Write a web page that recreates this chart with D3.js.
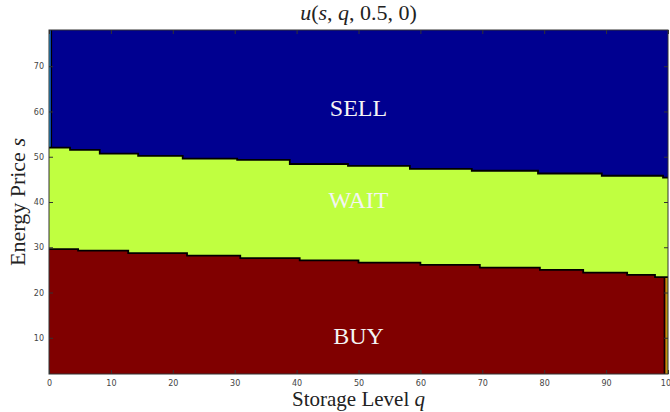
<!DOCTYPE html>
<html>
<head>
<meta charset="utf-8">
<script src="https://cdn.jsdelivr.net/npm/d3@7"></script>
<style>
  body { margin: 0; background: #fff; }
  svg { display: block; }
</style>
</head>
<body>
<svg id="chart" width="670" height="412"></svg>
<script>
// axis ranges and ticks
const qDomain = [0, 100];
const sDomain = [2, 78];
const xTicks = [0, 10, 20, 30, 40, 50, 60, 70, 80, 90, 100];
const yTicks = [10, 20, 30, 40, 50, 60, 70];

// SELL / WAIT boundary (step starts in q, price level in s)
const sellBreaks = [0, 3.4, 8.2, 14.4, 21.6, 30.4, 38.9, 48.3, 58.3, 68.3, 79.0, 89.3, 99.2];
const sellLevels = [52.0, 51.5, 50.7, 50.2, 49.6, 49.3, 48.4, 48.0, 47.3, 46.9, 46.3, 45.8, 45.4];

// WAIT / BUY boundary
const buyBreaks = [0, 4.7, 12.8, 22.3, 30.9, 40.5, 50.0, 60.0, 69.6, 79.3, 86.3, 93.4, 97.9];
const buyLevels = [29.6, 29.25, 28.7, 28.15, 27.6, 27.1, 26.6, 26.1, 25.5, 25.0, 24.4, 23.9, 23.4];

// region labels
const regions = [
    {name: "SELL", q: 50, s: 60.8},
    {name: "WAIT", q: 50, s: 40.5},
    {name: "BUY", q: 50, s: 10.4}
];

const margin = {top: 30, right: 2, bottom: 38, left: 49};
const width = 670 - margin.left - margin.right;
const height = 412 - margin.top - margin.bottom;

const svg = d3.select("#chart");
const g = svg.append("g")
    .attr("transform", "translate(" + margin.left + "," + margin.top + ")");

const x = d3.scaleLinear().domain(qDomain).range([0, width]);
const y = d3.scaleLinear().domain(sDomain).range([height, 0]);

// turn breaks/levels into step points ending at q = 100
function stepPoints(breaks, levels) {
    let pts = breaks.map((b, i) => [b, levels[i]]);
    pts.push([qDomain[1], levels[levels.length - 1]]);
    return pts;
}
const sellPts = stepPoints(sellBreaks, sellLevels);
const buyPts = stepPoints(buyBreaks, buyLevels);

// WAIT = background
g.append("rect")
    .attr("width", width)
    .attr("height", height)
    .attr("fill", "#c0ff40");

// SELL region
g.append("path")
    .datum(sellPts)
    .attr("fill", "#000090")
    .attr("d", d3.area()
        .curve(d3.curveStepAfter)
        .x(d => x(d[0]))
        .y0(y(sDomain[1]))
        .y1(d => y(d[1])));

// BUY region
g.append("path")
    .datum(buyPts)
    .attr("fill", "#800000")
    .attr("d", d3.area()
        .curve(d3.curveStepAfter)
        .x(d => x(d[0]))
        .y0(y(sDomain[0]))
        .y1(d => y(d[1])));

// edge artefacts of the grid
g.append("rect")
    .attr("x", x(0))
    .attr("y", y(sDomain[1]))
    .attr("width", x(0.25) - x(0))
    .attr("height", y(sellLevels[0]) - y(sDomain[1]))
    .attr("fill", "#1a9be0");
g.append("line")
    .attr("x1", x(0.4)).attr("x2", x(0.4))
    .attr("y1", y(sDomain[1])).attr("y2", y(sellLevels[0]))
    .attr("stroke", "#000").attr("stroke-width", 1.2);
g.append("rect")
    .attr("x", x(99.6))
    .attr("y", y(buyLevels[buyLevels.length - 1]))
    .attr("width", x(100) - x(99.6))
    .attr("height", y(sDomain[0]) - y(buyLevels[buyLevels.length - 1]))
    .attr("fill", "#b89a10");
g.append("line")
    .attr("x1", x(99.4)).attr("x2", x(99.4))
    .attr("y1", y(buyLevels[buyLevels.length - 1])).attr("y2", y(sDomain[0]))
    .attr("stroke", "#000").attr("stroke-width", 1.2);

// contour lines
const stepLine = d3.line()
    .curve(d3.curveStepAfter)
    .x(d => x(d[0]))
    .y(d => y(d[1]));
[sellPts, buyPts].forEach(pts => {
    g.append("path")
        .datum(pts)
        .attr("fill", "none")
        .attr("stroke", "#000")
        .attr("stroke-width", 1.8)
        .attr("d", stepLine);
});

// region labels
g.selectAll(".region")
    .data(regions)
    .enter()
    .append("text")
    .attr("x", d => x(d.q))
    .attr("y", d => y(d.s))
    .attr("dy", "0.35em")
    .attr("text-anchor", "middle")
    .attr("font-family", "Liberation Serif, serif")
    .attr("font-size", 24)
    .attr("fill", "#f4f4f4")
    .text(d => d.name);

// axes, ticks inward
const tickColor = "#333";
function styleAxis(sel, showLabels) {
    sel.select(".domain").remove();
    sel.selectAll(".tick line").attr("stroke", tickColor);
    sel.selectAll(".tick text")
        .attr("fill", "#444")
        .attr("font-family", "DejaVu Sans, sans-serif")
        .attr("font-size", 8)
        .style("display", showLabels ? null : "none");
}
g.append("g")
    .attr("transform", "translate(0," + height + ")")
    .call(d3.axisBottom(x).tickValues(xTicks).tickSizeInner(-4).tickSizeOuter(0).tickPadding(6))
    .call(s => styleAxis(s, true));
g.append("g")
    .call(d3.axisTop(x).tickValues(xTicks).tickSizeInner(-4).tickSizeOuter(0))
    .call(s => styleAxis(s, false));
g.append("g")
    .call(d3.axisLeft(y).tickValues(yTicks).tickSizeInner(-4).tickSizeOuter(0).tickPadding(5))
    .call(s => styleAxis(s, true));
g.append("g")
    .attr("transform", "translate(" + width + ",0)")
    .call(d3.axisRight(y).tickValues(yTicks).tickSizeInner(-4).tickSizeOuter(0))
    .call(s => styleAxis(s, false));

// frame
g.append("rect")
    .attr("width", width)
    .attr("height", height)
    .attr("fill", "none")
    .attr("stroke", tickColor)
    .attr("stroke-width", 1);

// title and axis labels (math parts in italic)
function mathText(sel, parts) {
    parts.forEach(p => {
        sel.append("tspan")
            .attr("font-style", p[1] ? "italic" : "normal")
            .text(p[0]);
    });
}
const serif = "Liberation Serif, serif";
svg.append("text")
    .attr("x", margin.left + width / 2)
    .attr("y", 20)
    .attr("text-anchor", "middle")
    .attr("font-family", serif)
    .attr("font-size", 22)
    .attr("fill", "#222")
    .call(s => mathText(s, [["u", true], ["(", false], ["s", true], [", ", false], ["q", true], [", 0.5, 0)", false]]));

svg.append("text")
    .attr("x", margin.left + width / 2)
    .attr("y", 406)
    .attr("text-anchor", "middle")
    .attr("font-family", serif)
    .attr("font-size", 21)
    .attr("fill", "#222")
    .call(s => mathText(s, [["Storage Level ", false], ["q", true]]));

svg.append("text")
    .attr("transform", "translate(25," + (margin.top + height / 2) + ") rotate(-90)")
    .attr("text-anchor", "middle")
    .attr("font-family", serif)
    .attr("font-size", 22)
    .attr("fill", "#222")
    .call(s => mathText(s, [["Energy Price ", false], ["s", true]]));
</script>
</body>
</html>
